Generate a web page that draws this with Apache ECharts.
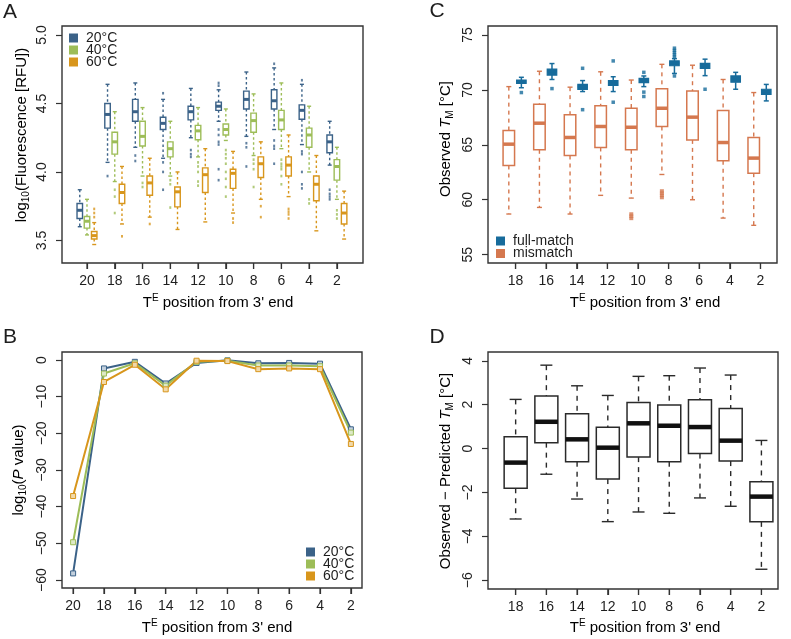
<!DOCTYPE html>
<html>
<head>
<meta charset="utf-8">
<script src="https://cdn.jsdelivr.net/npm/echarts@6/dist/echarts.min.js"></script>
<style>html,body{margin:0;padding:0;background:#fff}#c{width:791px;height:639px}</style>
</head>
<body>
<div id="c"></div>
<script>
// ---------- DATA ----------
const posA = ['20','18','16','14','12','10','8','6','4','2'];
const posC = ['18','16','14','12','10','8','6','4','2'];
const tempNames = ['20°C','40°C','60°C'];
const ticksA = [3.5, 4.0, 4.5, 5.0];
const ticksB = [-60, -50, -40, -30, -20, -10, 0];
const ticksC = [55, 60, 65, 70, 75];
const ticksD = [-6, -4, -2, 0, 2, 4];

// Panel A boxplots: [low whisker, Q1, median, Q3, high whisker] per position
const boxA20 = [[3.60,3.66,3.72,3.77,3.87],[4.07,4.32,4.42,4.50,4.64],[4.18,4.37,4.44,4.53,4.65],[4.10,4.31,4.355,4.40,4.53],[4.25,4.38,4.44,4.48,4.61],[4.37,4.45,4.48,4.51,4.60],[4.26,4.46,4.53,4.59,4.73],[4.31,4.46,4.52,4.60,4.76],[4.20,4.385,4.45,4.49,4.64],[4.05,4.14,4.22,4.27,4.37]];
const boxA40 = [[3.54,3.59,3.64,3.675,3.80],[3.93,4.13,4.22,4.29,4.44],[3.97,4.19,4.26,4.37,4.47],[3.97,4.11,4.17,4.22,4.37],[4.11,4.235,4.30,4.34,4.47],[4.23,4.27,4.31,4.35,4.46],[4.12,4.29,4.375,4.43,4.57],[4.17,4.31,4.38,4.45,4.65],[4.00,4.18,4.27,4.32,4.48],[3.80,3.94,4.04,4.09,4.18]];
const boxA60 = [[3.47,3.51,3.535,3.565,3.63],[3.62,3.77,3.85,3.91,4.04],[3.67,3.83,3.92,3.97,4.10],[3.58,3.745,3.855,3.89,4.00],[3.635,3.85,3.98,4.03,4.17],[3.70,3.88,3.99,4.02,4.15],[3.80,3.96,4.06,4.11,4.22],[3.82,3.97,4.05,4.11,4.27],[3.57,3.79,3.91,3.97,4.12],[3.51,3.62,3.70,3.77,3.86]];
const outA20 = [['18',3.97],['16',4.12],['16',4.08],['14',4.575],['14',4.07],['14',4.00],['14',3.87],['12',4.16],['12',4.13],['12',4.11],['10',4.65],['10',4.63],['10',4.31],['10',4.27],['10',4.22],['10',4.20],['10',4.02],['10',3.94],['8',4.21],['8',4.18],['8',4.04],['6',4.79],['6',4.23],['6',4.19],['6',4.17],['6',4.06],['4',4.67],['4',4.15],['4',4.13],['4',4.00],['4',3.91],['4',3.88],['2',3.87],['2',3.84],['2',3.82],['2',3.80]];
const outA40 = [['18',3.87],['18',3.82],['18',3.70],['16',3.92],['16',3.89],['14',3.94],['14',3.91],['14',3.74],['12',4.07],['12',4.04],['12',4.00],['12',3.93],['12',3.90],['10',4.16],['10',4.13],['10',4.10],['10',4.06],['10',4.00],['10',3.95],['10',3.89],['10',3.82],['8',4.09],['8',4.06],['8',4.02],['8',3.89],['6',4.09],['6',4.06],['6',4.04],['6',4.02],['6',3.97],['6',3.91],['4',3.80],['4',3.77],['2',3.72],['2',3.69],['2',3.66]];
const outA60 = [['20',3.67],['20',3.70],['20',3.73],['18',3.53],['16',3.62],['10',3.66],['10',3.63],['8',3.75],['8',3.67],['6',3.73],['6',3.71],['6',3.69],['6',3.66]];

// Panel B: log10(P value)
const pB20 = [-58.2,-2.3,-0.5,-6.4,-0.8,-0.1,-0.9,-0.8,-1.0,-18.9];
const pB40 = [-49.7,-3.7,-0.9,-7.0,-0.5,-0.2,-1.5,-1.5,-1.7,-19.8];
const pB60 = [-37.1,-6.0,-1.3,-8.0,-0.2,-0.3,-2.5,-2.3,-2.5,-22.9];

// Panel C boxplots
const boxCmis = [[58.7,63.12,65.06,66.3,70.3],[59.3,64.55,66.97,68.7,71.7],[58.7,64.03,65.67,67.73,70.25],[60.4,64.76,66.67,68.55,71.65],[60.15,64.55,66.6,68.33,70.9],[62.3,66.67,68.33,70.1,72.33],[60.0,65.45,67.52,69.9,72.25],[58.33,63.55,65.21,68.12,70.95],[57.67,62.42,63.79,65.67,69.76]];
const boxCfull = [[70.2,70.6,70.75,70.9,71.15],[70.95,71.35,71.7,71.9,72.4],[69.85,70.05,70.3,70.5,70.85],[69.85,70.4,70.6,70.85,71.2],[70.3,70.67,70.85,71.06,71.27],[71.5,72.2,72.42,72.64,72.85],[71.3,71.97,72.18,72.42,72.8],[70.06,70.7,70.97,71.27,71.6],[69.0,69.6,69.85,70.06,70.5]];
const outCmis = [['10',58.7],['10',58.5],['10',58.3],['8',60.8],['8',60.6],['8',60.4],['8',60.2]];
const outCfull = [['18',69.76],['16',70.12],['14',71.97],['14',68.2],['12',72.64],['12',68.88],['10',71.6],['10',69.8],['10',69.4],['8',73.0],['8',73.2],['8',73.4],['8',73.6],['8',73.8],['8',71.27],['6',70.06]];

// Panel D boxplots
const boxD = [[-3.21,-1.81,-0.64,0.54,2.24],[-1.17,0.27,1.22,2.39,3.80],[-2.30,-0.60,0.42,1.59,2.86],[-3.33,-1.39,0.04,0.97,2.42],[-2.89,-0.39,1.15,2.10,3.29],[-2.95,-0.60,1.04,1.98,3.32],[-2.25,-0.23,0.98,2.22,3.67],[-2.63,-0.57,0.36,1.83,3.35],[-5.50,-3.34,-2.19,-1.51,0.37]];

// ---------- STYLE ----------
const FF = '"Liberation Sans", Arial, Helvetica, sans-serif';
const colA = ['#3b6288', '#9dbd58', '#d8961c'];
const colAlight = ['#c3d0dd', '#dde9c6', '#f1d9a9'];
const colCfull = '#176b9b';
const colCmis = '#d5784f';
const TXT = '#1e1e1e';
const FRAME = '#333333';

function boxSeriesData(stats, offset) { return stats.map((s, i) => [i + 1 + offset].concat(s)); }
function outSeriesData(list, labels, offset) { return list.map(([lab, v]) => [labels.indexOf(lab) + 1 + offset, v]); }
function minusFmt(v) { return v < 0 ? '\u2212' + Math.abs(v) : String(v); }

function makeBox(st) {
  return function (params, api) {
    const x = api.value(0);
    const lo = api.coord([x, api.value(1)]);
    const q1 = api.coord([x, api.value(2)]);
    const md = api.coord([x, api.value(3)]);
    const q3 = api.coord([x, api.value(4)]);
    const hi = api.coord([x, api.value(5)]);
    const cx = lo[0], hw = st.boxW / 2, cw = st.capW / 2;
    const ws = { stroke: st.color, lineWidth: st.wLW, fill: null };
    if (st.dash) ws.lineDash = st.dash;
    return { type: 'group', children: [
      { type: 'line', shape: { x1: cx, y1: hi[1], x2: cx, y2: q3[1] }, style: ws },
      { type: 'line', shape: { x1: cx, y1: q1[1], x2: cx, y2: lo[1] }, style: ws },
      { type: 'line', shape: { x1: cx - cw, y1: hi[1], x2: cx + cw, y2: hi[1] }, style: { stroke: st.color, lineWidth: st.wLW } },
      { type: 'line', shape: { x1: cx - cw, y1: lo[1], x2: cx + cw, y2: lo[1] }, style: { stroke: st.color, lineWidth: st.wLW } },
      { type: 'rect', shape: { x: cx - hw, y: q3[1], width: st.boxW, height: q1[1] - q3[1] }, style: { fill: st.fill, stroke: st.color, lineWidth: st.bLW } },
      { type: 'line', shape: { x1: cx - hw, y1: md[1], x2: cx + hw, y2: md[1] }, style: { stroke: st.medColor || st.color, lineWidth: st.medW } }
    ]};
  };
}
// x-axis tick marks (outward, below the frame) at each category position
function tickSeries(gi, labels, yMin) {
  return { type: 'custom', xAxisIndex: gi, yAxisIndex: gi, silent: true, clip: false,
    renderItem: function (params, api) {
      const p = api.coord([api.value(0), yMin]);
      return { type: 'line', shape: { x1: p[0], y1: p[1], x2: p[0], y2: p[1] + 6 }, style: { stroke: FRAME, lineWidth: 1.2 } };
    },
    encode: { x: 0, y: 1 }, data: labels.map((_, i) => [i + 1, yMin]) };
}

function xAxis(gi, min, max, labels) {
  const vals = labels.map((_, i) => i + 1);
  return { type: 'value', gridIndex: gi, min, max, splitLine: { show: false },
    axisLine: { show: false, onZero: false },
    axisTick: { show: true, length: 6, customValues: vals, lineStyle: { color: FRAME, width: 1.2 } },
    axisLabel: { customValues: vals, formatter: v => labels[Math.round(v) - 1], margin: 11, fontSize: 14, color: TXT, fontFamily: FF } };
}
function yAxis(gi, min, max, vals, fmt) {
  return { type: 'value', gridIndex: gi, min, max, splitLine: { show: false },
    axisLine: { show: false, onZero: false },
    axisTick: { show: true, length: 6, customValues: vals, lineStyle: { color: FRAME, width: 1.2 } },
    axisLabel: { customValues: vals, formatter: fmt, rotate: 90, margin: 13, fontSize: 14, color: TXT, fontFamily: FF } };
}

const rich = {
  n: { fontSize: 15, fontFamily: FF, color: TXT, lineHeight: 19 },
  i: { fontSize: 15, fontFamily: FF, color: TXT, fontStyle: 'italic', lineHeight: 19 },
  s: { fontSize: 10, fontFamily: FF, color: TXT, lineHeight: 10, verticalAlign: 'bottom' },
  p: { fontSize: 10, fontFamily: FF, color: TXT, lineHeight: 10, verticalAlign: 'top' }
};
function title(x, y, text, rot) {
  return { type: 'text', x, y, rotation: rot ? Math.PI / 2 : 0, silent: true,
    style: { text, rich, align: 'center', verticalAlign: 'middle', textAlign: 'center', textVerticalAlign: 'middle' } };
}
function letter(x, y, t) {
  return { type: 'text', x, y, silent: true, style: { text: t, fontSize: 21, fontFamily: FF, fill: TXT, align: 'center', verticalAlign: 'middle', textAlign: 'center', textVerticalAlign: 'middle' } };
}
const xTitle = '{n|T}{p|E}{n| position from 3\' end}';

const yRange = { A: [3.335, 5.066], B: [-62.18, 2.18], C: [54.24, 75.82], D: [-6.40, 4.40] };

const series = [];
// Panel A
[boxA20, boxA40, boxA60].forEach((b, k) => {
  series.push({ type: 'custom', name: tempNames[k], xAxisIndex: 0, yAxisIndex: 0, itemStyle: { color: colA[k] },
    renderItem: makeBox({ color: colA[k], fill: '#fff', boxW: 5.5, capW: 4, wLW: 1.4, bLW: 1.4, medW: 3, dash: [2.5, 2.5] }),
    encode: { x: 0, y: [1, 2, 3, 4, 5] }, data: boxSeriesData(b, (k - 1) * 0.26), z: 3 });
});
[outA20, outA40, outA60].forEach((o, k) => {
  series.push({ type: 'scatter', xAxisIndex: 0, yAxisIndex: 0, symbol: 'rect', symbolSize: [2, 2.6], itemStyle: { color: colA[k] },
    data: outSeriesData(o, posA, (k - 1) * 0.26), z: 2, silent: true });
});
// Panel B
[pB20, pB40, pB60].forEach((d, k) => {
  series.push({ type: 'line', name: tempNames[k], xAxisIndex: 1, yAxisIndex: 1, symbol: 'rect', symbolSize: 5,
    lineStyle: { color: colA[k], width: 2 }, itemStyle: { color: colAlight[k], borderColor: colA[k], borderWidth: 1 },
    data: d.map((v, i) => [i + 1, v]), z: 3 });
});
// Panel C
series.push({ type: 'custom', name: 'mismatch', xAxisIndex: 2, yAxisIndex: 2, itemStyle: { color: colCmis },
  renderItem: makeBox({ color: colCmis, fill: '#fff', boxW: 11.5, capW: 5, wLW: 1.4, bLW: 1.5, medW: 3.5, dash: [4, 4] }),
  encode: { x: 0, y: [1, 2, 3, 4, 5] }, data: boxSeriesData(boxCmis, -0.22), z: 3 });
series.push({ type: 'custom', name: 'full-match', xAxisIndex: 2, yAxisIndex: 2, itemStyle: { color: colCfull },
  renderItem: makeBox({ color: colCfull, fill: colCfull, boxW: 9.5, capW: 5, wLW: 1.5, bLW: 1.2, medW: 2.5 }),
  encode: { x: 0, y: [1, 2, 3, 4, 5] }, data: boxSeriesData(boxCfull, 0.19), z: 3 });
series.push({ type: 'scatter', xAxisIndex: 2, yAxisIndex: 2, symbol: 'rect', symbolSize: [4, 3.5], itemStyle: { color: colCmis }, data: outSeriesData(outCmis, posC, -0.22), silent: true });
series.push({ type: 'scatter', xAxisIndex: 2, yAxisIndex: 2, symbol: 'rect', symbolSize: [3.5, 3.5], itemStyle: { color: colCfull }, data: outSeriesData(outCfull, posC, 0.19), silent: true });
// Panel D
series.push({ type: 'custom', xAxisIndex: 3, yAxisIndex: 3,
  renderItem: makeBox({ color: '#2a2a2a', fill: '#fff', boxW: 23, capW: 12, wLW: 1.4, bLW: 1.5, medW: 4.5, medColor: '#111', dash: [5, 5] }),
  encode: { x: 0, y: [1, 2, 3, 4, 5] }, data: boxSeriesData(boxD, 0), z: 3 });
// x tick marks (drawn at the same place as the axis ticks)
series.push(tickSeries(0, posA, yRange.A[0]));
series.push(tickSeries(1, posA, yRange.B[0]));
series.push(tickSeries(2, posC, yRange.C[0]));
series.push(tickSeries(3, posC, yRange.D[0]));

const legText = { fontSize: 14, fontFamily: FF, color: TXT, lineHeight: 12, padding: [0, 0, 0, 3] };
const legBase = { orient: 'vertical', icon: 'rect', itemWidth: 9, itemHeight: 9, itemGap: -2, padding: 0, selectedMode: false, textStyle: legText };
const option = {
  animation: false,
  grid: [
    { left: 62, top: 26, width: 301, height: 237, show: true, borderColor: FRAME, borderWidth: 1.4 },
    { left: 62, top: 352, width: 300, height: 236, show: true, borderColor: FRAME, borderWidth: 1.4 },
    { left: 488, top: 26, width: 289, height: 237, show: true, borderColor: FRAME, borderWidth: 1.4 },
    { left: 488, top: 352, width: 290, height: 237, show: true, borderColor: FRAME, borderWidth: 1.4 }
  ],
  xAxis: [ xAxis(0, 0.1, 10.94, posA), xAxis(1, 0.64, 10.36, posA), xAxis(2, 0.1, 9.54, posC), xAxis(3, 0.1, 9.54, posC) ],
  yAxis: [
    yAxis(0, yRange.A[0], yRange.A[1], ticksA, v => v.toFixed(1)),
    yAxis(1, yRange.B[0], yRange.B[1], ticksB, minusFmt),
    yAxis(2, yRange.C[0], yRange.C[1], ticksC, v => String(v)),
    yAxis(3, yRange.D[0], yRange.D[1], ticksD, minusFmt)
  ],
  legend: [
    Object.assign({}, legBase, { left: 69, top: 31, data: tempNames.map((n, k) => ({ name: n, itemStyle: { color: colA[k] } })) }),
    Object.assign({}, legBase, { left: 306, top: 545, data: tempNames.map((n, k) => ({ name: n, itemStyle: { color: colA[k] } })) }),
    Object.assign({}, legBase, { left: 496, top: 234, itemGap: -1.5, data: [{ name: 'full-match', itemStyle: { color: colCfull } }, { name: 'mismatch', itemStyle: { color: colCmis } }] })
  ],
  graphic: [
    letter(10, 12, 'A'), letter(10, 337, 'B'), letter(437, 11, 'C'), letter(437, 337, 'D'),
    title(22, 135, '{n|log}{s|10}{n|(Fluorescence [RFU])}', true),
    title(19, 470, '{n|log}{s|10}{n|(}{i|P}{n| value)}', true),
    title(446, 139, '{n|Observed }{i|T}{s|M}{n| [°C]}', true),
    title(446, 471, '{n|Observed \u2212 Predicted }{i|T}{s|M}{n| [°C]}', true),
    title(218, 303, xTitle, false),
    title(217, 628, xTitle, false),
    title(645, 303, xTitle, false),
    title(645, 628, xTitle, false)
  ],
  series
};
const chart = echarts.init(document.getElementById('c'), null, { renderer: 'canvas' });
chart.setOption(option);
</script>
</body>
</html>
